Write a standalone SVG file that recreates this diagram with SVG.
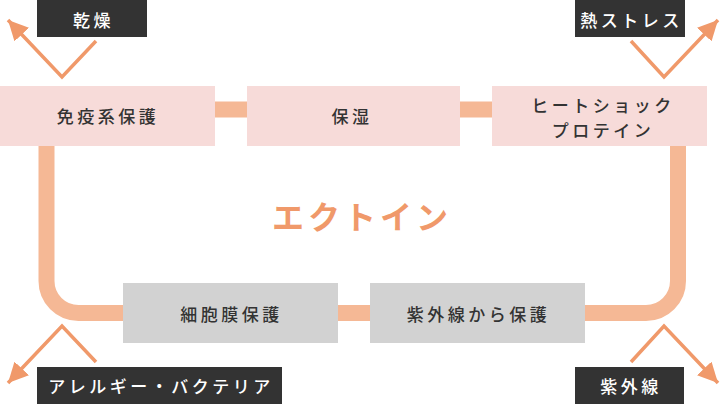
<svg xmlns="http://www.w3.org/2000/svg" width="721" height="404" viewBox="0 0 721 404">
<style>
.pink{fill:#f7dbd9}
.gray{fill:#d2d2d2}
.dark{fill:#333333}
.bt{font-family:"Noto Sans CJK JP","Noto Sans",sans-serif;font-size:17px;font-weight:500;fill:#333333;letter-spacing:3.5px;text-anchor:middle;dominant-baseline:central}
.lt{font-family:"Noto Sans CJK JP","Noto Sans",sans-serif;font-size:17px;fill:#ffffff;font-weight:500;letter-spacing:3.5px;text-anchor:middle;dominant-baseline:central}
.pipe{fill:none;stroke:#f5b895;stroke-width:16}
.arr{fill:none;stroke:#f0996a;stroke-width:3.5;marker-end:url(#ah)}
</style>
<defs>
<marker id="ah" markerUnits="userSpaceOnUse" markerWidth="20" markerHeight="20" refX="18" refY="9" orient="auto" viewBox="0 0 18 18">
<path d="M0,0 L18,9 L0,18 z" fill="#f0996a"/>
</marker>
</defs>
<g id="connectors">
<rect x="214" y="101.5" width="34" height="16" fill="#f5b895"/>
<rect x="459" y="101.5" width="34" height="16" fill="#f5b895"/>
<rect x="337" y="305" width="34" height="16" fill="#f5b895"/>
<path class="pipe" d="M46.5,145 V281 A32,32 0 0 0 78.5,313 H124"/>
<path class="pipe" d="M584,313 H646 A32,32 0 0 0 678,281 V145"/>
<polyline class="arr" points="96,41 62,77 8,20"/>
<polyline class="arr" points="631,41 664,77 718,20"/>
<polyline class="arr" points="96,362 62,326 8,383"/>
<polyline class="arr" points="631,362 664,326 718,383"/>
</g>
<g id="n1"><rect class="pink" x="0" y="86" width="215" height="60"/><text class="bt" x="108" y="115">免疫系保護</text></g>
<g id="n2"><rect class="pink" x="247" y="86" width="213" height="60"/><text class="bt" x="352" y="115">保湿</text></g>
<g id="n3"><rect class="pink" x="492" y="86" width="215" height="60"/><text class="bt" x="603" y="104">ヒートショック</text><text class="bt" x="603" y="129">プロテイン</text></g>
<g id="n4"><rect class="gray" x="123" y="283" width="215" height="60"/><text class="bt" x="231.5" y="313">細胞膜保護</text></g>
<g id="n5"><rect class="gray" x="370" y="283" width="215" height="60"/><text class="bt" x="478.5" y="313">紫外線から保護</text></g>
<g id="center"><text x="362" y="215" font-family="'Noto Sans CJK JP','Noto Sans',sans-serif" font-size="32" font-weight="bold" fill="#f0996a" letter-spacing="4" text-anchor="middle" dominant-baseline="central">エクトイン</text></g>
<g id="l1"><rect class="dark" x="37" y="0" width="110" height="37"/><text class="lt" x="93.5" y="19">乾燥</text></g>
<g id="l2"><rect class="dark" x="575" y="0" width="110" height="37"/><text class="lt" x="631.5" y="19">熱ストレス</text></g>
<g id="l3"><rect class="dark" x="37" y="367" width="245" height="37"/><text class="lt" x="161" y="385">アレルギー・バクテリア</text></g>
<g id="l4"><rect class="dark" x="575" y="367" width="109" height="37"/><text class="lt" x="631" y="385">紫外線</text></g>
</svg>
